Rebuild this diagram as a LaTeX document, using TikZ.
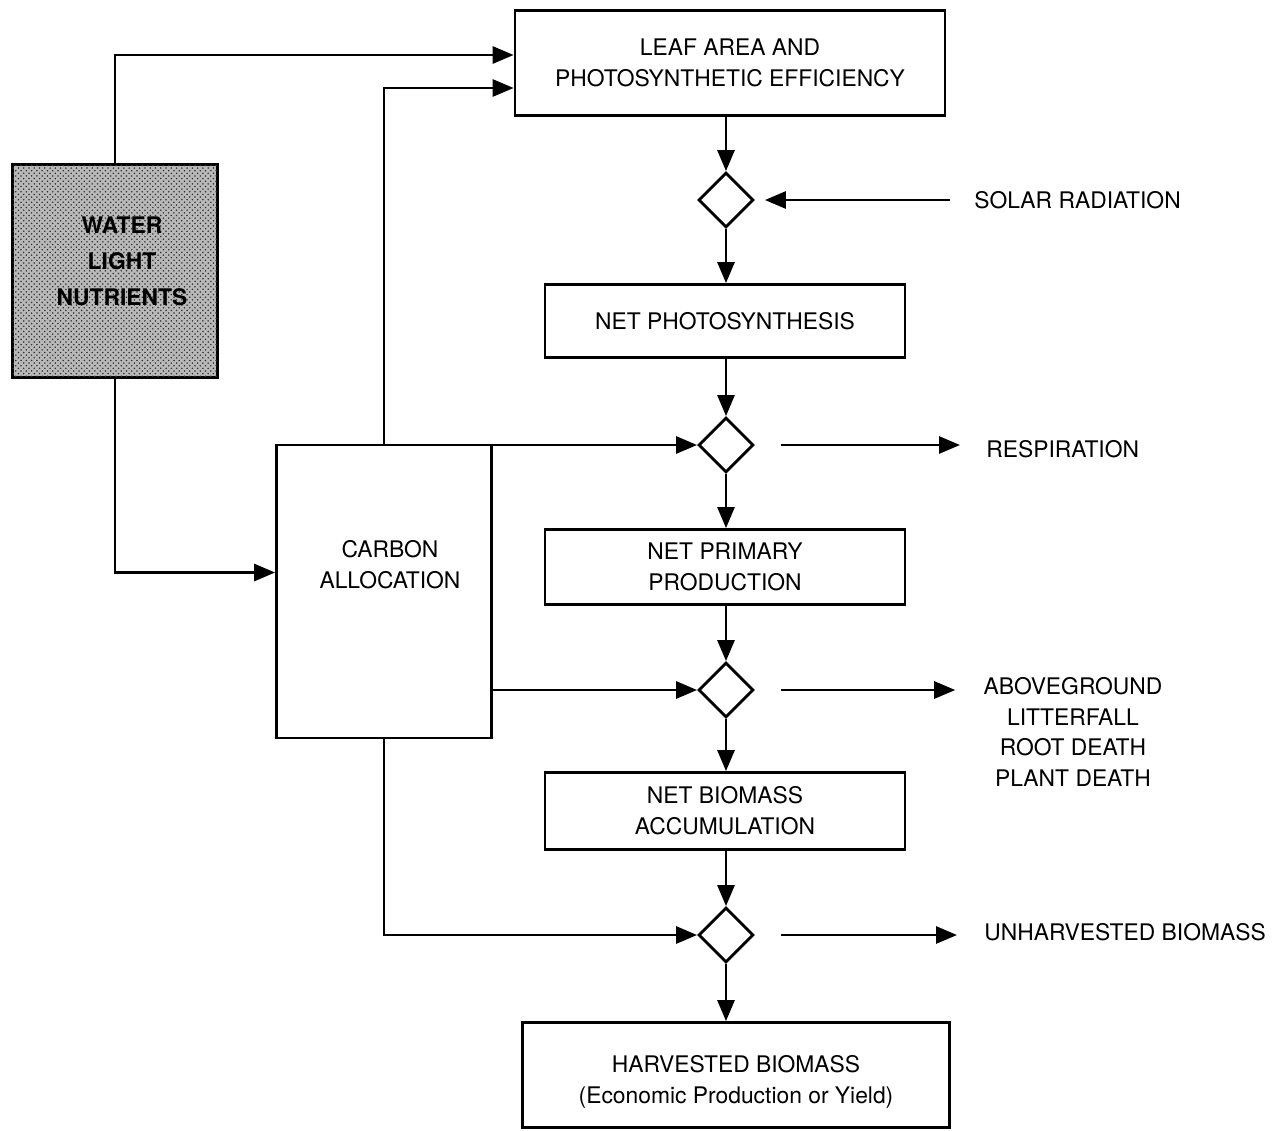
\documentclass[tikz,border=0pt]{standalone}
\usepackage{fontspec}
\setmainfont{TeX Gyre Heros}
\usetikzlibrary{shapes.geometric,arrows.meta,patterns}

\def\shadeColor{gray!55}
\def\dotColor{black!80}

\begin{document}
\begin{tikzpicture}[x=0.02cm,y=-0.02cm,
    line width=1.6pt,
    font=\fontsize{13}{17.5}\selectfont,
    box/.style={draw, rectangle, align=center, inner sep=0pt},
    gate/.style={draw, diamond, minimum size=1.1cm, inner sep=0pt},
    flow/.style={-{Triangle[length=0.42cm,width=0.34cm]}},
    sidetext/.style={inner sep=0pt, align=center}]
    % Define parameters
    \def\xgate{726}
    \def\xbox{725}

    \useasboundingbox (0,0) rectangle (1272,1130);

    % main column
    \node[box, minimum width=8.6cm, minimum height=2.1cm] (leaf) at (730,63) {LEAF AREA AND\\PHOTOSYNTHETIC EFFICIENCY};
    \node[gate] (d1) at (\xgate,200) {};
    \node[box, minimum width=7.2cm, minimum height=1.46cm] (netps) at (\xbox,321) {NET PHOTOSYNTHESIS};
    \node[gate] (d2) at (\xgate,445) {};
    \node[box, minimum width=7.2cm, minimum height=1.5cm] (npp) at (\xbox,567) {NET PRIMARY\\PRODUCTION};
    \node[gate] (d3) at (\xgate,690) {};
    \node[box, minimum width=7.2cm, minimum height=1.54cm] (nba) at (\xbox,811) {NET BIOMASS\\ACCUMULATION};
    \node[gate] (d4) at (\xgate,935) {};
    \node[box, minimum width=8.54cm, minimum height=2.1cm] (harv) at (736,1075) {};
    \node[sidetext] (harvtext) at (736,1082) {HARVESTED BIOMASS\\(Economic Production or Yield)};

    % left side
    \node[box, minimum width=4.1cm, minimum height=4.26cm, fill=\shadeColor,
          postaction={pattern=crosshatch dots, pattern color=\dotColor}] (water) at (115,271) {};
    \node[sidetext, font=\fontsize{13}{20.5}\selectfont\bfseries] (watertext) at (122,261) {WATER\\LIGHT\\NUTRIENTS};
    \node[box, minimum width=4.3cm, minimum height=5.86cm] (carbon) at (384,591.5) {};
    \node[sidetext] (carbontext) at (390,565) {CARBON\\ALLOCATION};

    % right side texts
    \node[sidetext, anchor=west] (solar) at (973,200) {SOLAR RADIATION};
    \node[sidetext, anchor=west] (resp) at (985,449) {RESPIRATION};
    \node[sidetext] (loss) at (1073,732) {ABOVEGROUND\\LITTERFALL\\ROOT DEATH\\PLANT DEATH};
    \node[sidetext, anchor=west] (unharv) at (983,932) {UNHARVESTED BIOMASS};

    % down the column
    \draw[flow] (d1.north |- leaf.south) -- (d1.north);
    \draw[flow] (d1.south) -- (d1.south |- netps.north);
    \draw[flow] (d2.north |- netps.south) -- (d2.north);
    \draw[flow] (d2.south) -- (d2.south |- npp.north);
    \draw[flow] (d3.north |- npp.south) -- (d3.north);
    \draw[flow] (d3.south) -- (d3.south |- nba.north);
    \draw[flow] (d4.north |- nba.south) -- (d4.north);
    \draw[flow] (d4.south) -- (d4.south |- harv.north);

    % in and out of the gates
    \draw[flow, shorten <=0.46cm, shorten >=0.2cm] (solar.west) -- (d1.east);
    \draw[flow, shorten <=0.52cm, shorten >=0.5cm] (d2.east) -- (d2.east -| resp.west);
    \draw[flow, shorten <=0.52cm, shorten >=0.54cm] (d3.east) -- (d3.east -| loss.west);
    \draw[flow, shorten <=0.52cm, shorten >=0.52cm] (d4.east) -- (d4.east -| unharv.west);

    % feedback lines
    \draw[flow] (water.north) |- ([yshift=0.16cm]leaf.west);
    \draw[flow] (carbon.north) |- ([yshift=-0.5cm]leaf.west);
    \draw[flow] (water.south) |- ([yshift=0.38cm]carbon.west);
    \draw[flow] (d2.west -| carbon.east) -- (d2.west);
    \draw[flow] (carbon.east |- d3.west) -- (d3.west);
    \draw[flow] (carbon.south) |- (d4.west);
\end{tikzpicture}
\end{document}
